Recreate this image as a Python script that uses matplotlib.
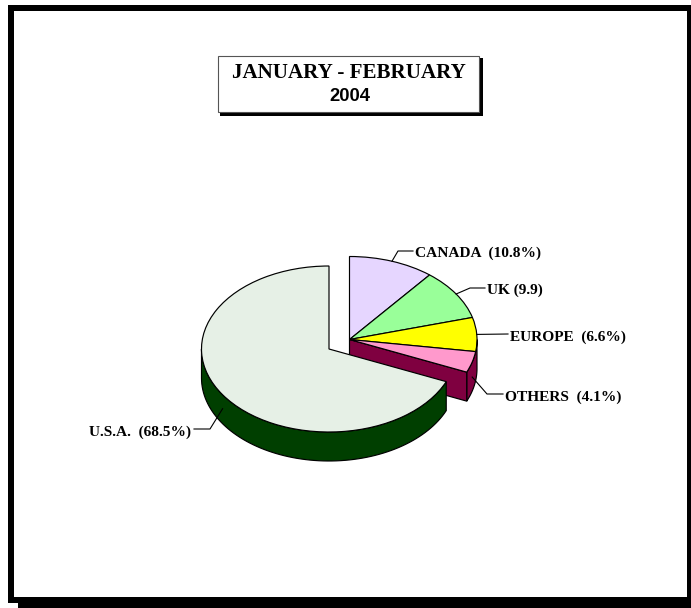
import numpy as np
import matplotlib
matplotlib.use("Agg")
import matplotlib.pyplot as plt
from matplotlib.patches import Rectangle, Polygon
from matplotlib.transforms import Affine2D

plt.rcParams['font.family'] = ['Liberation Serif', 'DejaVu Serif']

# ---- data ----
categories = ["CANADA", "UK", "EUROPE", "OTHERS", "U.S.A."]
shares = [10.8, 9.9, 6.6, 4.1, 68.5]
labels = ["CANADA  (10.8%)", "UK (9.9)", "EUROPE  (6.6%)", "OTHERS  (4.1%)", "U.S.A.  (68.5%)"]
top_colors = ["#E6D6FF", "#99FF99", "#FFFF00", "#FF99CC", "#E6F0E6"]
title_main = "JANUARY - FEBRUARY"
title_year = "2004"

# ---- geometry (pixels) ----
W, H = 691, 608
RX, RY, DEPTH = 127.5, 83.0, 29.0
C_GROUP = (349.5, 339.5)
C_USA = (329.0, 349.0)
SIDE_GROUP = "#7F0040"
SIDE_USA = "#003F00"
LW = 0.85

fig = plt.figure(figsize=(W / 100, H / 100), dpi=100, facecolor="white")
ax = fig.add_axes([0, 0, 1, 1])

wedges, _ = ax.pie(shares, colors=top_colors, startangle=90, counterclock=False,
                   wedgeprops=dict(edgecolor="black", linewidth=LW))
ax.set_aspect("auto")
ax.set_xlim(0, W)
ax.set_ylim(H, 0)
ax.axis("off")

# page frame with drop shadow
ax.add_patch(Rectangle((18, 15), W - 18, H - 15, fc="black", ec="none", zorder=0))
ax.add_patch(Rectangle((8, 5), 683, 598, fc="black", ec="none", zorder=0.1))
ax.add_patch(Rectangle((14, 11), 673, 586, fc="white", ec="none", zorder=0.2))

fractions = np.array(shares) / sum(shares)
bounds = np.concatenate([[0], np.cumsum(fractions)]) * 2 * np.pi
mids = (bounds[:-1] + bounds[1:]) / 2


def rim(center, theta):
    return center[0] + RX * np.sin(theta), center[1] - RY * np.cos(theta)


def rim_band(center, t0, t1):
    t = np.linspace(t0, t1, 80)
    x, y = rim(center, t)
    return np.column_stack([np.r_[x, x[::-1]], np.r_[y, (y + DEPTH)[::-1]]])


# side walls of the detached group: rim and cut face
group_end = bounds[4]
ax.add_patch(Polygon(rim_band(C_GROUP, np.pi / 2, group_end), closed=True,
                     fc=SIDE_GROUP, ec="black", lw=LW, zorder=2))
ex, ey = rim(C_GROUP, group_end)
ax.add_patch(Polygon([C_GROUP, (ex, ey), (ex, ey + DEPTH), (C_GROUP[0], C_GROUP[1] + DEPTH)],
                     closed=True, fc=SIDE_GROUP, ec="black", lw=LW, zorder=2))

# top faces
for i, w in enumerate(wedges):
    c = C_USA if i == 4 else C_GROUP
    w.set_transform(Affine2D().scale(RX, -RY).translate(*c) + ax.transData)
    w.set_zorder(5 if i == 4 else 3)
    w.set_clip_on(False)

# side wall of the U.S.A. slice
ax.add_patch(Polygon(rim_band(C_USA, group_end, 1.5 * np.pi), closed=True,
                     fc=SIDE_USA, ec="black", lw=LW, zorder=4))

# leader lines and labels
elbows = [[(398, 251), (413, 251)],
          [(470, 288), (485, 288)],
          [(508, 334)],
          [(487, 394), (503, 394)],
          [(210, 429), (194, 429)]]
drops = [0, 0, 0, 15, 14]
text_pos = [(415, 253.5), (487, 290.5), (510, 337.5), (505, 397.5), (191, 432.5)]
aligns = ["left", "left", "left", "left", "right"]
for i, lab in enumerate(labels):
    c = C_USA if i == 4 else C_GROUP
    sx, sy = rim(c, mids[i])
    pts = [(sx, sy + drops[i])] + elbows[i]
    ax.plot(*zip(*pts), color="black", lw=0.8, zorder=6, solid_joinstyle="miter")
    ax.text(text_pos[i][0], text_pos[i][1], lab, ha=aligns[i], va="center",
            fontsize=11.1, fontweight="bold", color="black", zorder=7)

# title box with shadow
ax.add_patch(Rectangle((220, 58), 263, 58, fc="black", ec="none", zorder=6))
ax.add_patch(Rectangle((218, 56), 261, 56, fc="white", ec="#555555", lw=0.8, zorder=7))
ax.text(348.5, 73.5, title_main, ha="center", va="center", fontsize=15.1,
        fontweight="bold", color="black", zorder=8)
ax.text(350, 96.5, title_year, ha="center", va="center", fontsize=13.2,
        fontweight="bold", family=["Liberation Sans", "DejaVu Sans"], color="black", zorder=8)

fig.savefig("out.png", dpi=100, facecolor="white")
